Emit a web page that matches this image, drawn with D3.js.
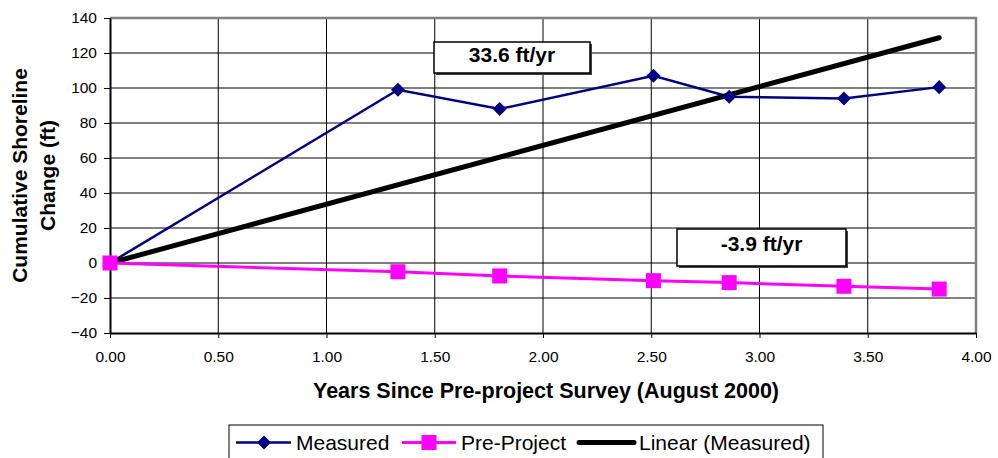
<!DOCTYPE html>
<html><head><meta charset="utf-8">
<script src="https://cdn.jsdelivr.net/npm/d3@7"></script>
<style>body{margin:0;background:#fff}svg{display:block;font-family:Arial,"Liberation Sans",sans-serif}</style>
</head><body><svg id="c" width="998" height="458"></svg>
<script>
const years = [0, 1.33, 1.80, 2.51, 2.86, 3.39, 3.83];
const measured = [0, 99, 88, 107, 95, 94, 100.5];
const preProject = [0, -5, -7.4, -10.1, -11.2, -13.3, -14.9];
const trendYears = [0, 3.83];
const trendValues = [0, 128.7];
const xTicks = [0, 0.5, 1, 1.5, 2, 2.5, 3, 3.5, 4];
const yTicks = [-40, -20, 0, 20, 40, 60, 80, 100, 120, 140];
const labels = [{text: "33.6 ft/yr"}, {text: "-3.9 ft/yr"}];
const legendNames = ["Measured", "Pre-Project", "Linear (Measured)"];

const svg = d3.select("#c");
const L = 110, R = 976, T = 18, B = 333;
const x = d3.scaleLinear().domain([0, 4]).range([L, R]);
const y = d3.scaleLinear().domain([-40, 140]).range([B, T]);
const FONT = "Arial, Liberation Sans, sans-serif";

// gridlines
svg.append("g").selectAll("line").data(yTicks.filter(d => d > -40 && d < 140)).join("line")
  .attr("x1", L).attr("x2", R).attr("y1", d => y(d)).attr("y2", d => y(d))
  .attr("stroke", "#000").attr("stroke-width", 1);
svg.append("g").selectAll("line").data(xTicks.filter(d => d > 0 && d < 4)).join("line")
  .attr("y1", T).attr("y2", B).attr("x1", d => x(d)).attr("x2", d => x(d))
  .attr("stroke", "#000").attr("stroke-width", 1);
// plot border top/right gray
svg.append("path").attr("d", `M${L},${T}H${R}V${B}`).attr("fill", "none")
  .attr("stroke", "#808080").attr("stroke-width", 2.5);

// axes
const xAxis = d3.axisBottom(x).tickValues(xTicks).tickFormat(d3.format(".2f")).tickSize(5).tickSizeOuter(0);
const gx = svg.append("g").attr("transform", `translate(0,${B})`).call(xAxis);
gx.select(".domain").attr("stroke", "#000").attr("stroke-width", 2);
gx.selectAll(".tick line").attr("stroke", "#000").attr("stroke-width", 1);
gx.selectAll(".tick text").attr("font-size", 15.5).attr("font-family", FONT).attr("fill", "#000").attr("y", 18).attr("dy", "0.71em");

const yAxis = d3.axisLeft(y).tickValues(yTicks).tickSize(6).tickSizeOuter(0);
const gy = svg.append("g").attr("transform", `translate(${L},0)`).call(yAxis);
gy.select(".domain").attr("stroke", "#000").attr("stroke-width", 2);
gy.selectAll(".tick line").attr("stroke", "#000").attr("stroke-width", 1);
gy.selectAll(".tick text").attr("font-size", 15.5).attr("font-family", FONT).attr("fill", "#000").attr("x", -13);

// lines
const pts = (xs, ys) => xs.map((v, i) => [v, ys[i]]);
const line = d3.line().x(d => x(d[0])).y(d => y(d[1]));
svg.append("path").attr("d", line(pts(years, measured))).attr("fill", "none")
  .attr("stroke", "#000080").attr("stroke-width", 2.5);
svg.append("path").attr("d", line(pts(trendYears, trendValues))).attr("fill", "none")
  .attr("stroke", "#000").attr("stroke-width", 5).attr("stroke-linecap", "round");
svg.append("path").attr("d", line(pts(years, preProject))).attr("fill", "none")
  .attr("stroke", "#FF00FF").attr("stroke-width", 3);

const diamond = d3.symbol().type(d3.symbolDiamond2).size(125);
svg.append("g").selectAll("path").data(pts(years, measured)).join("path")
  .attr("d", diamond).attr("transform", d => `translate(${x(d[0])},${y(d[1])})`)
  .attr("fill", "#000080");
svg.append("g").selectAll("rect").data(pts(years, preProject)).join("rect")
  .attr("x", d => x(d[0]) - 7.5).attr("y", d => y(d[1]) - 7.5).attr("width", 15).attr("height", 15)
  .attr("fill", "#FF00FF");

// label boxes
const boxes = [{x0: 434, y0: 42, w: 156, h: 31, base: 20}, {x0: 677, y0: 229, w: 169, h: 37, base: 21.5}];
labels.forEach((lb, i) => {
  const b = boxes[i];
  svg.append("rect").attr("x", b.x0 + 2).attr("y", b.y0 + 2).attr("width", b.w).attr("height", b.h).attr("fill", "#404040");
  svg.append("rect").attr("x", b.x0).attr("y", b.y0).attr("width", b.w).attr("height", b.h)
    .attr("fill", "#fff").attr("stroke", "#000").attr("stroke-width", 1.5);
  svg.append("text").attr("x", b.x0 + b.w / 2).attr("y", b.y0 + b.base).attr("text-anchor", "middle")
    .attr("font-size", 21).attr("font-weight", "bold").text(lb.text);
});

// axis titles
svg.append("text").attr("x", 546).attr("y", 398).attr("text-anchor", "middle")
  .attr("font-size", 21.5).attr("font-weight", "bold").text("Years Since Pre-project Survey (August 2000)");
const yt = svg.append("text").attr("transform", "translate(0,175.5) rotate(-90)").attr("text-anchor", "middle")
  .attr("font-size", 21).attr("font-weight", "bold");
yt.append("tspan").attr("x", 0).attr("y", 27).text("Cumulative Shoreline");
yt.append("tspan").attr("x", 0).attr("y", 55).text("Change (ft)");

// legend
svg.append("rect").attr("x", 229).attr("y", 425).attr("width", 594).attr("height", 40)
  .attr("fill", "#fff").attr("stroke", "#000").attr("stroke-width", 1);
const ly = 442.5;
const ty = 450;
const lg = svg.append("g").attr("font-size", 21);
// Measured
lg.append("line").attr("x1", 236).attr("x2", 291).attr("y1", ly).attr("y2", ly).attr("stroke", "#000080").attr("stroke-width", 2.5);
lg.append("path").attr("d", diamond).attr("transform", `translate(264,${ly})`).attr("fill", "#000080");
lg.append("text").attr("x", 296).attr("y", ty).text(legendNames[0]);
// Pre-project
lg.append("line").attr("x1", 402).attr("x2", 456).attr("y1", ly).attr("y2", ly).attr("stroke", "#FF00FF").attr("stroke-width", 3);
lg.append("rect").attr("x", 421.5).attr("y", ly - 7.5).attr("width", 15).attr("height", 15).attr("fill", "#FF00FF");
lg.append("text").attr("x", 461).attr("y", ty).text(legendNames[1]);
// Linear
lg.append("line").attr("x1", 579).attr("x2", 634).attr("y1", ly).attr("y2", ly).attr("stroke", "#000").attr("stroke-width", 5).attr("stroke-linecap", "round");
lg.append("text").attr("x", 639).attr("y", ty).text(legendNames[2]);
</script></body></html>
